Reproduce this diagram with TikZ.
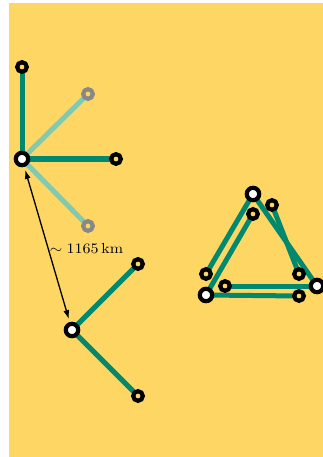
\documentclass[tikz,border=0pt]{standalone}
\usetikzlibrary{arrows.meta}
\definecolor{bgyellow}{HTML}{FDD663}
\definecolor{edgegreen}{HTML}{00896F}
\definecolor{lightgreen}{HTML}{80C9B2}
\definecolor{ringgray}{HTML}{888888}
\pgfdeclarelayer{back}
\pgfdeclarelayer{edges}
\pgfsetlayers{back,edges,main}
\begin{document}
\begin{tikzpicture}[x=1pt,y=-1pt,
  bignode/.style={circle,draw=black,fill=white,line width=4.2pt,minimum size=12.4pt,inner sep=0pt},
  smallnode/.style={circle,draw=black,fill=bgyellow,line width=4.2pt,minimum size=9.6pt,inner sep=0pt},
  graynode/.style={smallnode,draw=ringgray},
  link/.style={draw=edgegreen,line width=5pt},
  faintlink/.style={draw=lightgreen,line width=5pt},
  dist/.style={{Latex[length=9pt,width=6pt]}-{Latex[length=9pt,width=6pt]},line width=1.3pt,shorten <=3pt,shorten >=3pt}]
\useasboundingbox (0,0) rectangle (323,457);
\begin{pgfonlayer}{back}
  \fill[bgyellow] (9,3) rectangle (323,457);
\end{pgfonlayer}
% left star
\node[bignode] (A) at (22,159) {};
\node[smallnode] (Atop) at (22,67) {};
\node[graynode] (Ag1) at (88,94) {};
\node[smallnode] (Aright) at (116,159) {};
\node[graynode] (Ag2) at (88,226) {};
% lower V
\node[bignode] (B) at (72,330) {};
\node[smallnode] (Bup) at (138,264) {};
\node[smallnode] (Bdown) at (138,396) {};
% triangle
\node[bignode] (T1) at (253,194) {};
\node[bignode] (T2) at (206,295) {};
\node[bignode] (T3) at (317,286) {};
\node[smallnode] (s1) at (253,214) {};
\node[smallnode] (s2) at (272,205) {};
\node[smallnode] (s3) at (206,274) {};
\node[smallnode] (s4) at (299,274) {};
\node[smallnode] (s5) at (225,286) {};
\node[smallnode] (s6) at (299,296) {};
\begin{pgfonlayer}{edges}
  \draw[faintlink] (A.center) -- (Ag1.center);
  \draw[faintlink] (A.center) -- (Ag2.center);
  \draw[link] (A.center) -- (Atop.center);
  \draw[link] (A.center) -- (Aright.center);
  \draw[link] (B.center) -- (Bup.center);
  \draw[link] (B.center) -- (Bdown.center);
  \draw[link] (T1.center) -- (s3.center);
  \draw[link] (s1.center) -- (T2.center);
  \draw[link] (T1.center) -- (T3.center);
  \draw[link] (s2.center) -- (s4.center);
  \draw[link] (s5.center) -- (T3.center);
  \draw[link] (T2.center) -- (s6.center);
\end{pgfonlayer}
\draw[dist] (A) -- (B);
\node[inner sep=0pt] (lbl) at (86.5,248) {\scalebox{1.6}[1.45]{$\sim 1165\,\mathrm{km}$}};
\end{tikzpicture}
\end{document}
